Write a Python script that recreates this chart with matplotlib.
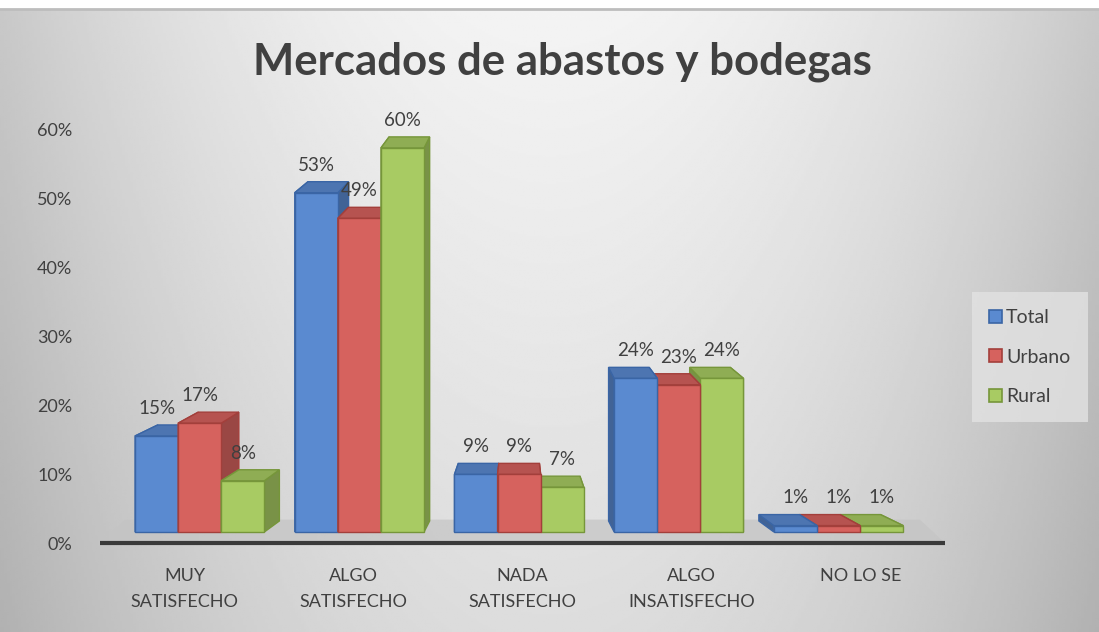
import matplotlib
matplotlib.use('Agg')
import matplotlib.pyplot as plt
from matplotlib.patches import Polygon, Patch
from matplotlib.colors import to_rgb
import numpy as np

# data
categories = ['MUY\nSATISFECHO', 'ALGO\nSATISFECHO', 'NADA\nSATISFECHO',
              'ALGO\nINSATISFECHO', 'NO LO SE']
series = ['Total', 'Urbano', 'Rural']
total = [0.15, 0.53, 0.09, 0.24, 0.01]
urbano = [0.17, 0.49, 0.09, 0.23, 0.01]
rural = [0.08, 0.60, 0.07, 0.24, 0.01]
yticks = [0.0, 0.1, 0.2, 0.3, 0.4, 0.5, 0.6]
ytick_labels = ['0%', '10%', '20%', '30%', '40%', '50%', '60%']

face_colors = ['#5A8AD0', '#D6625E', '#A8CB63']
edge_colors = ['#3A65A5', '#A33F3B', '#76963A']
text_color = '#404040'

plt.rcParams['font.family'] = ['Lato', 'DejaVu Sans']

fig = plt.figure(figsize=(10.99, 6.32), dpi=100, facecolor='white')

# gradient background of the chart area
bg = fig.add_axes([0, 0, 1, 623 / 632])
gx, gy = np.meshgrid(np.linspace(-1, 1, 400), np.linspace(0, 1, 300))
grad = 0.955 - 0.17 * gx ** 2 - 0.09 * gy
bg.imshow(grad, cmap='gray', vmin=0, vmax=1, aspect='auto', extent=[0, 1, 0, 1], origin='upper')
bg.set_axis_off()
bg.plot([0, 1], [1, 1], color='#BDBDBD', lw=2, transform=bg.transAxes, clip_on=False)

ax = fig.add_axes([100 / 1099, (632 - 543) / 632, 845 / 1099, 413 / 632])
ax.set_facecolor('none')
ax.set_xlim(-0.5, 4.5)
ax.set_ylim(0, 0.6)

# pseudo 3D parameters
xc = 1.98       # vanishing x (category units)
k = 0.059       # side depth factor
dy = 0.016      # top face depth
base = 0.016    # bar base above floor front
sy = 0.93       # perspective shrink of bar heights
w = 0.255

# floor
fx0, fx1 = -0.5, 4.5
floor_back = 0.034
floor = Polygon([(fx0, 0), (fx1, 0),
                 (fx1 + k * (xc - fx1), floor_back),
                 (fx0 + k * (xc - fx0), floor_back)],
                closed=True, facecolor='#C4C4C4', edgecolor='none', alpha=0.7, zorder=1)
ax.add_patch(floor)
ax.plot([-0.5, 4.5], [0, 0], color='#3A3A3A', lw=3, solid_capstyle='butt', zorder=1.5, clip_on=False)

values = [total, urbano, rural]
bars = []
for j, vals in enumerate(values):
    for i, v in enumerate(vals):
        cx = 2 + 0.945 * (i - 2) - 0.02 + (j - 1) * w
        bars.append((abs(cx - xc), cx, v, j))
bars.sort(key=lambda b: -b[0])


def shade(c, f):
    r, g, b = to_rgb(c)
    return (r * f, g * f, b * f)


for rank, (_, cx, v, j) in enumerate(bars):
    z = 2 + rank * 0.01
    x0, x1 = cx - w / 2, cx + w / 2
    t = base + v * sy
    dx0 = k * (xc - x0)
    dx1 = k * (xc - x1)
    fc, ec = face_colors[j], edge_colors[j]
    side_r = Polygon([(x1, base), (x1, t), (x1 + dx1, t + dy), (x1 + dx1, base + dy)],
                     closed=True, facecolor=shade(fc, 0.72), edgecolor=ec, lw=1, zorder=z)
    side_l = Polygon([(x0, base), (x0, t), (x0 + dx0, t + dy), (x0 + dx0, base + dy)],
                     closed=True, facecolor=shade(fc, 0.72), edgecolor=ec, lw=1, zorder=z)
    top = Polygon([(x0, t), (x1, t), (x1 + dx1, t + dy), (x0 + dx0, t + dy)],
                  closed=True, facecolor=shade(fc, 0.85), edgecolor=ec, lw=1, zorder=z + 0.001)
    ax.add_patch(side_r)
    ax.add_patch(side_l)
    ax.add_patch(top)
    ax.bar(cx, t - base, bottom=base, width=w, color=fc, edgecolor=ec, lw=1, zorder=z + 0.002)
    ax.annotate(f'{v:.0%}', (cx, t + dy), xytext=(0, 12), textcoords='offset points',
                ha='center', va='center', fontsize=13.5, color=text_color, zorder=10)

ax.set_xticks(range(len(categories)))
ax.set_xticklabels(categories, fontsize=13, color=text_color, linespacing=1.75)
ax.set_yticks(yticks)
ax.set_yticklabels(ytick_labels, fontsize=13, color=text_color)
ax.tick_params(axis='both', length=0)
ax.tick_params(axis='x', pad=18)
ax.tick_params(axis='y', pad=20)
for s in ax.spines.values():
    s.set_visible(False)

handles = [Patch(facecolor=face_colors[j], edgecolor=edge_colors[j], lw=1.2, label=series[j])
           for j in range(3)]
leg = fig.legend(handles=handles, loc='center', bbox_to_anchor=(0.937, 0.435),
                 fontsize=14, frameon=True, handlelength=0.65, handleheight=0.65,
                 handletextpad=0.2, labelspacing=1.15, borderpad=0.9, fancybox=False)
leg.get_frame().set_facecolor('#E2E2E2')
leg.get_frame().set_edgecolor('none')
for txt in leg.get_texts():
    txt.set_color(text_color)

fig.text(0.512, 0.902, 'Mercados de abastos y bodegas', ha='center', va='center',
         fontsize=31.5, fontweight='bold', color=text_color)

fig.savefig('out.png', dpi=100, facecolor='white')
